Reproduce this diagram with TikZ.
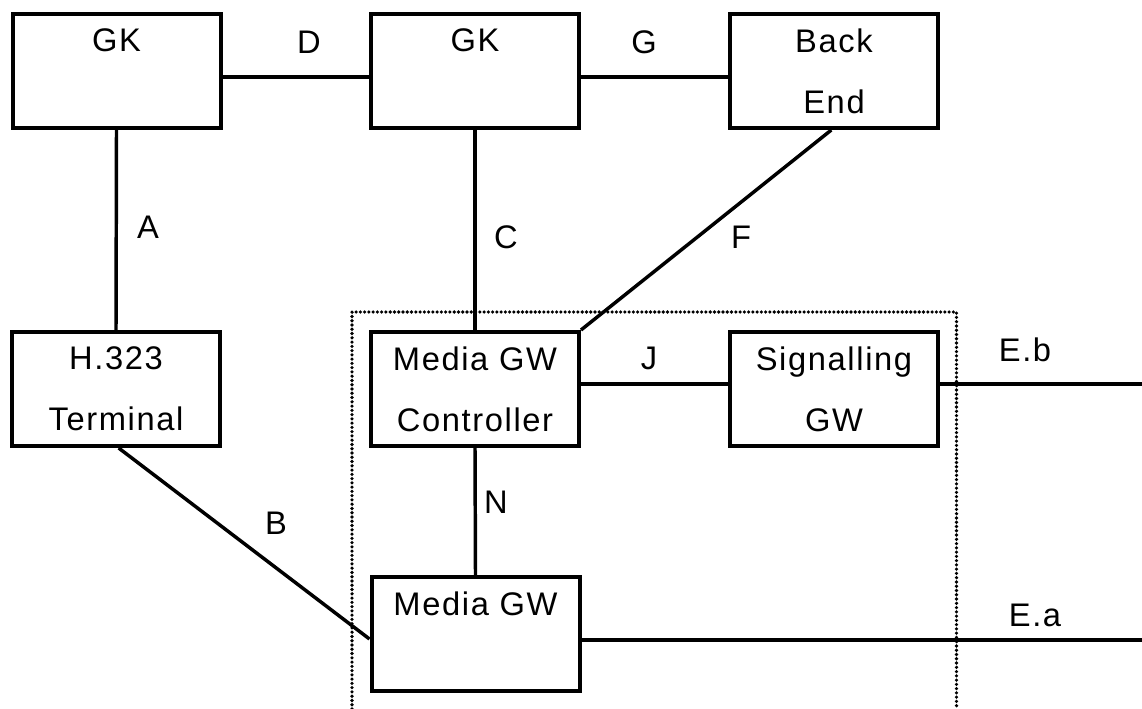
\documentclass[tikz,border=0pt]{standalone}
\usepackage{fontspec}
\setmainfont[LetterSpace=5]{Liberation Sans}
\begin{document}
\begin{tikzpicture}[x=0.75pt, y=-0.75pt,
        box/.style={draw, black, line width=3pt, minimum width=156pt, minimum height=85.5pt,
                    inner sep=0pt, align=center, font=\fontsize{24.5}{45.75}\selectfont},
        link/.style={black, line width=2.6pt},
        lab/.style={inner sep=0pt, font=\fontsize{24.5}{28}\selectfont}]
        \useasboundingbox (0,0) rectangle (1142,709);
        % region of the gateway
        \draw[black, line width=2.7pt, line cap=round, dash pattern=on 0pt off 3.2pt]
                (352,709) -- (352,312) -- (956.5,312) -- (956.5,709);
        \node[box] (gka) at (116.5,71) {GK\\\mbox{}};
        \node[box] (gkb) at (475,71) {GK\\\mbox{}};
        \node[box] (back) at (834,71) {Back\\End};
        \node[box] (term) at (116,389) {H.323\\Terminal};
        \node[box] (mgc) at (475,389) {Media GW\\Controller};
        \node[box] (sgw) at (834,389) {Signalling\\GW};
        \node[box] (mgw) at (475.5,634) {Media GW\\\mbox{}};
        \coordinate (eb) at (1142,384);
        \coordinate (ea) at (1142,640);
        \draw[link] (gka.south) -- (term.north);
        \draw[link] ([yshift=-4.5pt]gka.east) -- ([yshift=-4.5pt]gkb.west);
        \draw[link] ([yshift=-4.5pt]gkb.east) -- ([yshift=-4.5pt]back.west);
        \draw[link] (gkb.south) -- (mgc.north);
        \draw[link] ([xshift=-2pt]back.south) -- (mgc.north east);
        \draw[link] ([yshift=3.75pt]mgc.east) -- ([yshift=3.75pt]sgw.west);
        \draw[link] (mgc.south) -- (mgw.north);
        \draw[link] ([xshift=2pt]term.south) -- ([yshift=-3.75pt]mgw.west);
        \draw[link] ([yshift=3.75pt]sgw.east) -- (eb);
        \draw[link] ([yshift=-4.5pt]mgw.east) -- (ea);
        \foreach \x/\y/\t in {309/42/D, 644/42/G, 148/227/A, 506/237/C, 741/237/F,
                649/358/J, 496/502/N, 276/523/B, 1025/350/E.b, 1035/615/E.a} {
                \node[lab] at (\x,\y) {\t};
            }
    \end{tikzpicture}
\end{document}
